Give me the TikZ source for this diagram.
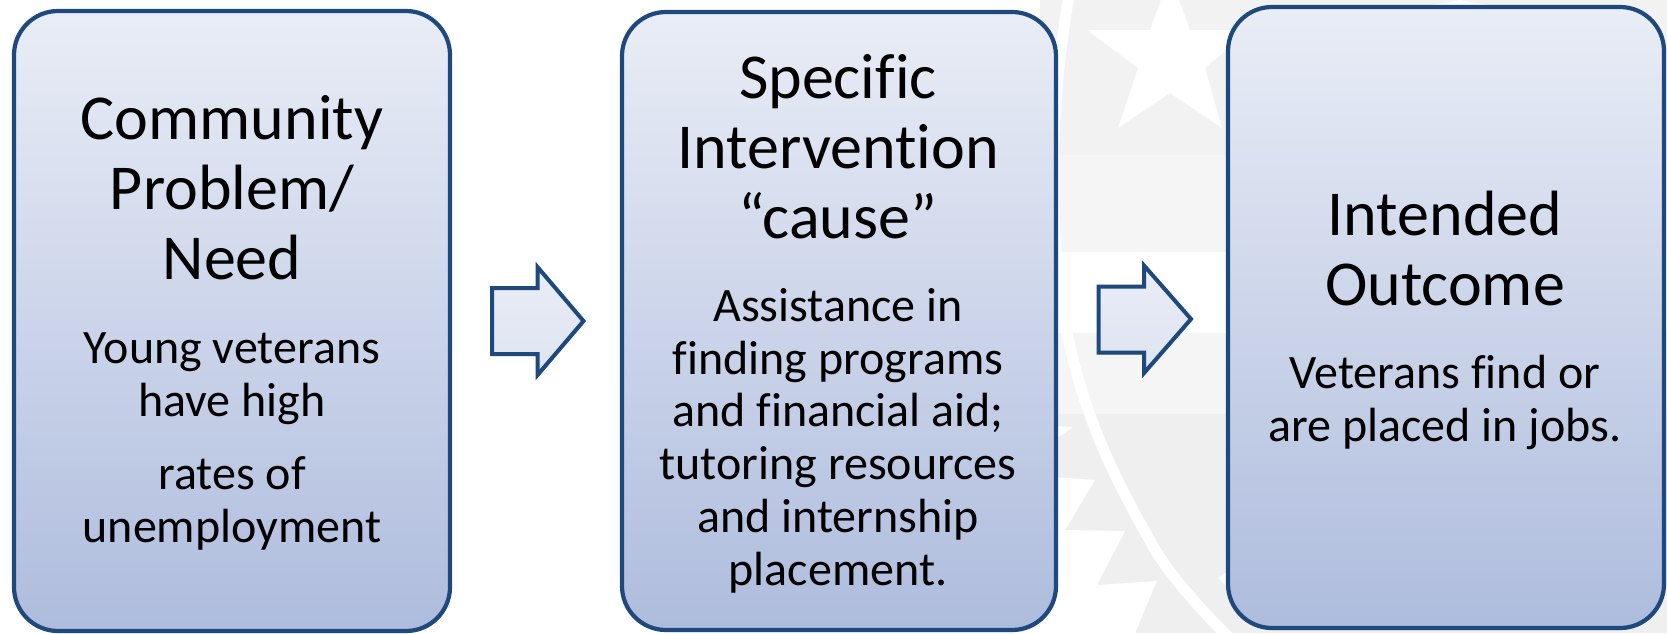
\documentclass[tikz,border=0pt]{standalone}
\usepackage{fontspec}
\setmainfont{Carlito}[Ligatures=CommonOff]
\usetikzlibrary{shadows}
\definecolor{edge}{HTML}{1F497D}
\definecolor{topfill}{HTML}{E9EDF6}
\definecolor{botfill}{HTML}{AEBCDD}
\definecolor{wmA}{HTML}{F2F2F2}
\definecolor{wmB}{HTML}{F5F5F5}
\definecolor{wmC}{HTML}{EFEFEF}
\tikzset{
  panel/.style={draw=edge,line width=4.2pt,rounded corners=44pt,top color=topfill,bottom color=botfill,
    drop shadow={shadow xshift=1pt,shadow yshift=-2pt,opacity=.22,fill=black}},
  blockarrow/.style={draw=edge,line width=4pt,miter limit=10,top color=topfill,bottom color=topfill!80!botfill,
    drop shadow={shadow xshift=1pt,shadow yshift=-2pt,opacity=.22,fill=black}},
  head/.style={font=\fontsize{64}{70}\selectfont,align=center,anchor=base,inner sep=0pt,text=black},
  body/.style={font=\fontsize{48}{52.7}\selectfont,align=center,anchor=base,inner sep=0pt,text=black},
  mark white/.style={fill=white,draw=none},
}
\begin{document}
\begin{tikzpicture}[x=1pt,y=-1pt]
\useasboundingbox (0,0) rectangle (1667,633);
\fill[white] (0,0) rectangle (1667,633);
% watermark
\fill[wmA] (1040,0) rectangle (1667,155);
\fill[wmB] (1040,155) rectangle (1667,252);
\fill[wmB] (1040,333) rectangle (1667,414);
\fill[wmC] (1040,414) rectangle (1667,633);
\fill[mark white] (1087,30) -- (1150,30) -- (1170,-25) -- (1190,30) -- (1250,30) -- (1205,68) -- (1222,128) -- (1170,93) -- (1118,128) -- (1138,68) -- cycle;
\draw[white,line width=11pt] (1070,-10) .. controls (1052,90) and (1045,220) .. (1067,333) .. controls (1085,420) and (1115,480) .. (1157,553) .. controls (1175,580) and (1200,610) .. (1232,640);
\fill[mark white] (1040,476) -- (1095,480) -- (1065,530) -- (1125,531) -- (1097,585) -- (1157,581) -- (1135,633) -- (1040,633) -- cycle;
\fill[mark white] (1040,425) -- (1073,427) -- (1040,450) -- cycle;
\fill[mark white] (1218,578) -- (1232,568) -- (1232,592) -- cycle;
\fill[mark white] (1460,0) -- (1500,7) -- (1420,7) -- cycle;
% panels
\node[panel,minimum width=436pt,minimum height=620pt] (p1) at (232,321) {};
\node[panel,minimum width=434pt,minimum height=618pt] (p2) at (839,321) {};
\node[panel,minimum width=436pt,minimum height=621pt] (p3) at (1446,317.5) {};
% arrows
\path[blockarrow] (492,288) -- (537.5,288) -- (537.5,267) -- (583.5,321) -- (537.5,375) -- (537.5,354) -- (492,354) -- cycle;
\path[blockarrow] (1098.5,286.5) -- (1144,286.5) -- (1144,265.5) -- (1191,319) -- (1144,373) -- (1144,352.5) -- (1098.5,352.5) -- cycle;
% text
\node[head] (t1) at (232,279) {Community\\Problem/\\Need};
\node[body] (b1a) at (232,416) {Young veterans\\have high};
\node[body] (b1b) at (232,542) {rates of\\unemployment};
\node[head] (t2) at (838,238) {Specific\\Intervention\\“cause”};
\node[body] (b2) at (838,585) {Assistance in\\finding programs\\and financial aid;\\tutoring resources\\and internship\\placement.};
\node[head] (t3) at (1445,305) {Intended\\Outcome};
\node[body] (b3) at (1445,441) {Veterans find or\\are placed in jobs.};
\end{tikzpicture}
\end{document}
